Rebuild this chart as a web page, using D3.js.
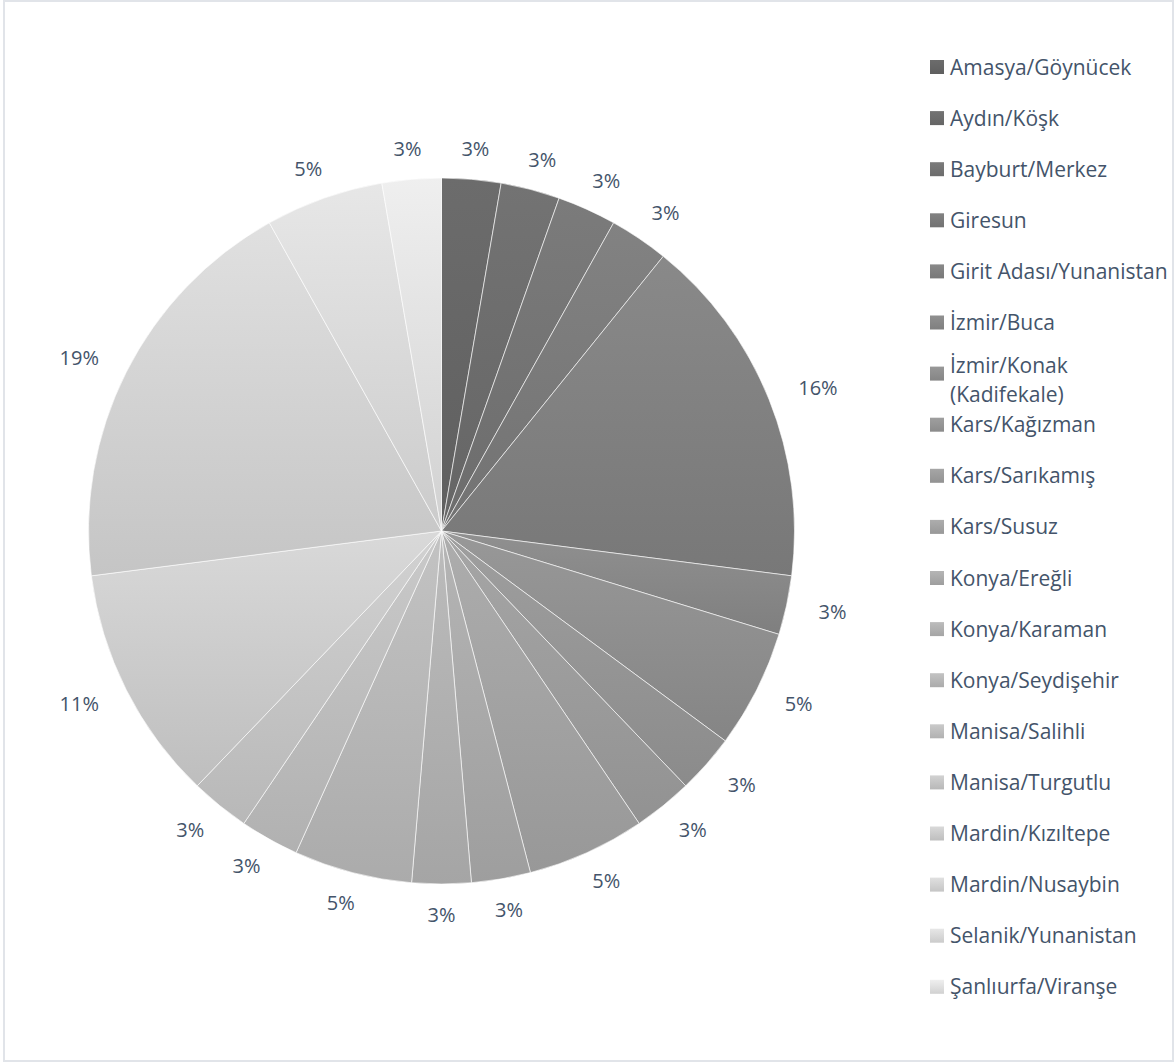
<!DOCTYPE html>
<html>
<head>
<meta charset="utf-8">
<script src="https://cdn.jsdelivr.net/npm/d3@7"></script>
<style>
  html, body { margin: 0; padding: 0; background: #fff; }
  svg { display: block; }
  text { font-family: "Open Sans", "Noto Sans", sans-serif; fill: #44546a; }
</style>
</head>
<body>
<svg id="chart" width="1176" height="1063"></svg>
<script>
// Birthplaces: number of people per place (percent labels are shares of the total)
const places = [
  "Amasya/Göynücek", "Aydın/Köşk", "Bayburt/Merkez", "Giresun",
  "Girit Adası/Yunanistan", "İzmir/Buca", "İzmir/Konak (Kadifekale)",
  "Kars/Kağızman", "Kars/Sarıkamış", "Kars/Susuz", "Konya/Ereğli",
  "Konya/Karaman", "Konya/Seydişehir", "Manisa/Salihli", "Manisa/Turgutlu",
  "Mardin/Kızıltepe", "Mardin/Nusaybin", "Selanik/Yunanistan",
  "Şanlıurfa/Viranşe"
];
const counts = [1, 1, 1, 1, 6, 1, 2, 1, 1, 2, 1, 1, 2, 1, 1, 4, 7, 2, 1];

const svg = d3.select("#chart");

// chart frame
svg.append("rect")
  .attr("x", 4).attr("y", 1).attr("width", 1169).attr("height", 1060)
  .attr("fill", "#fff").attr("stroke", "#e1e4e9").attr("stroke-width", 2);

const cx = 441.5, cy = 531, R = 353;
const total = d3.sum(counts);

// grey ramp, dark to light, each slice shaded lighter at top and darker at bottom
const greyMid = d3.scaleLinear().domain([0, places.length - 1]).range([102, 225]);
const grey = v => { const c = Math.max(0, Math.min(255, Math.round(v))); return d3.rgb(c, c, c).formatHex(); };

const defs = svg.append("defs");
places.forEach((p, i) => {
  const m = greyMid(i);
  const g = defs.append("linearGradient")
    .attr("id", "g" + i).attr("x1", 0).attr("y1", 0).attr("x2", 0).attr("y2", 1);
  g.append("stop").attr("offset", "0%").attr("stop-color", grey(m * 1.06));
  g.append("stop").attr("offset", "100%").attr("stop-color", grey(m * 0.93));
});

const pie = d3.pie().sort(null).value(d => d.v);
const arcs = pie(places.map((p, i) => ({ name: p, v: counts[i], i })));
const arc = d3.arc().innerRadius(0).outerRadius(R);

const g = svg.append("g").attr("transform", `translate(${cx},${cy})`);

g.selectAll("path.slice")
  .data(arcs)
  .join("path")
  .attr("class", "slice")
  .attr("d", arc)
  .attr("fill", d => `url(#g${d.data.i})`)
  .attr("stroke", "rgba(255,255,255,0.75)")
  .attr("stroke-width", 0.8);

// percentage labels placed just outside the rim
const fmt = d => Math.round(d.data.v / total * 100) + "%";
const labels = g.selectAll("text.pct")
  .data(arcs)
  .join("text")
  .attr("class", "pct")
  .attr("font-size", 20)
  .attr("text-anchor", "middle")
  .attr("dy", "0.36em")
  .text(fmt);

const gap = 21, hh = 10, ex = 12;
labels.each(function(d) {
  const t = (d.startAngle + d.endAngle) / 2;
  const s = Math.sin(t), c = -Math.cos(t);
  const hw = this.getComputedTextLength() / 2;
  const x = s * (R + gap) + s * (hw + ex);
  const y = c * (R + gap) + c * hh;
  d3.select(this).attr("x", x).attr("y", y);
});

// legend
const legX = 930, legY0 = 67, legStep = 51.1, legFs = 21, legMaxW = 222, lineH = 29;
const leg = svg.append("g");
places.forEach((p, i) => {
  const y = legY0 + i * legStep;
  leg.append("rect")
    .attr("x", legX).attr("y", y - 7).attr("width", 14).attr("height", 14)
    .attr("fill", `url(#g${i})`);
  // wrap words into lines no wider than the legend column
  const probe = leg.append("text").attr("font-size", legFs);
  const lines = [];
  let line = [];
  p.split(" ").forEach(w => {
    const trial = line.concat([w]).join(" ");
    probe.text(trial);
    if (probe.node().getComputedTextLength() > legMaxW && line.length) {
      lines.push(line.join(" "));
      line = [w];
    } else {
      line.push(w);
    }
  });
  lines.push(line.join(" "));
  probe.remove();
  const y0 = lines.length > 1 ? y - 8 : y;
  lines.forEach((ln, k) => {
    leg.append("text")
      .attr("x", legX + 20).attr("y", y0 + k * lineH).attr("dy", "0.36em")
      .attr("font-size", legFs)
      .text(ln);
  });
});
</script>
</body>
</html>
